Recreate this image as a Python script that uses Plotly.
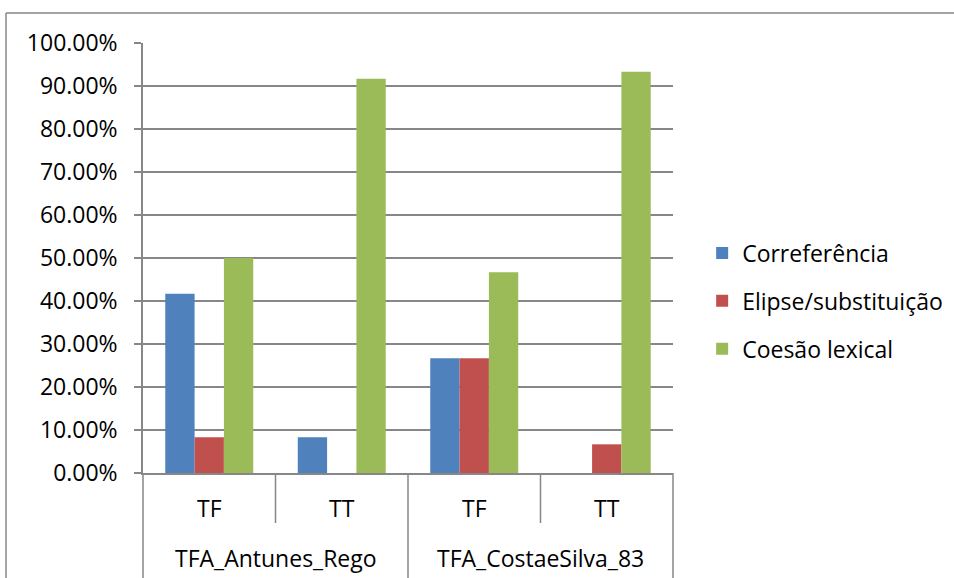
import plotly.graph_objects as go

groups = ["TFA_Antunes_Rego", "TFA_Antunes_Rego", "TFA_CostaeSilva_83", "TFA_CostaeSilva_83"]
subcats = ["TF", "TT", "TF", "TT"]
series_names = ["Correferência", "Elipse/substituição", "Coesão lexical"]
correferencia = [0.4167, 0.0833, 0.2667, 0.0]
elipse = [0.0833, 0.0, 0.2667, 0.0667]
coesao = [0.50, 0.9167, 0.4667, 0.9333]
colors = ["#4F81BD", "#C0504D", "#9BBB59"]
y_ticks = [i / 10 for i in range(11)]

FONT = "Open Sans"
FS = 23
GRAY = "#878787"
W, H = 954, 578
L, R, T, B = 143, 281, 43, 105
PW, PH = W - L - R, H - T - B

cats = [g + "|" + s for g, s in zip(groups, subcats)]
n = len(cats)

fig = go.Figure()
for i, (name, vals) in enumerate(zip(series_names, [correferencia, elipse, coesao])):
    fig.add_trace(go.Bar(
        x=cats, y=vals, name=name,
        marker=dict(color=colors[i], line=dict(width=0)),
        legendgroup=name,
    ))

fig.update_layout(
    width=W, height=H,
    margin=dict(l=L, r=R, t=T, b=B, autoexpand=False),
    paper_bgcolor="white", plot_bgcolor="white",
    barmode="group", bargap=0.336, bargroupgap=0,
    font=dict(family=FONT, size=FS, color="#000000"),
    legend=dict(x=1.055, y=0.40, xanchor="left", yanchor="middle",
                tracegroupgap=15, font=dict(size=FS, family=FONT)),
    showlegend=True,
)
fig.update_yaxes(
    range=[0, 1], tickvals=y_ticks, tickformat=".2%",
    showgrid=True, gridcolor=GRAY, gridwidth=1.5,
    showline=True, linecolor=GRAY, linewidth=1.5,
    ticks="outside", ticklen=7, tickcolor=GRAY, tickwidth=1.5,
    ticklabelstandoff=12, zeroline=False,
    tickfont=dict(size=FS, family=FONT),
)
fig.update_xaxes(
    type="category", showticklabels=False, ticks="",
    showline=True, linecolor=GRAY, linewidth=1.5,
)

def px_to_y(py):
    return (H - B - py) / PH

# category labels and dividers
for i in range(n):
    fig.add_annotation(x=(i + 0.5) / n, y=px_to_y(508), xref="paper", yref="paper",
                       text=subcats[i], showarrow=False, font=dict(size=FS, family=FONT),
                       xanchor="center", yanchor="middle")
for i in range(n + 1):
    outer = (i == 0 or i == n or groups[i - 1] != groups[min(i, n - 1)])
    y_end = px_to_y(H + 5) if outer else px_to_y(523)
    fig.add_shape(type="line", xref="paper", yref="paper",
                  x0=i / n, x1=i / n, y0=0, y1=y_end,
                  line=dict(color=GRAY, width=1.5))
# group labels
start = 0
for i in range(1, n + 1):
    if i == n or groups[i] != groups[start]:
        fig.add_annotation(x=(start + i) / 2 / n, y=px_to_y(558), xref="paper", yref="paper",
                           text=groups[start], showarrow=False, font=dict(size=FS, family=FONT),
                           xanchor="center", yanchor="middle")
        start = i

# chart outer frame
fx = (6 - L) / PW
fy = px_to_y(13)
fig.add_shape(type="line", xref="paper", yref="paper",
              x0=fx, x1=(W + 5 - L) / PW, y0=fy, y1=fy, line=dict(color=GRAY, width=1.5))
fig.add_shape(type="line", xref="paper", yref="paper",
              x0=fx, x1=fx, y0=fy, y1=px_to_y(H + 5), line=dict(color=GRAY, width=1.5))

fig.write_html("out.html")
